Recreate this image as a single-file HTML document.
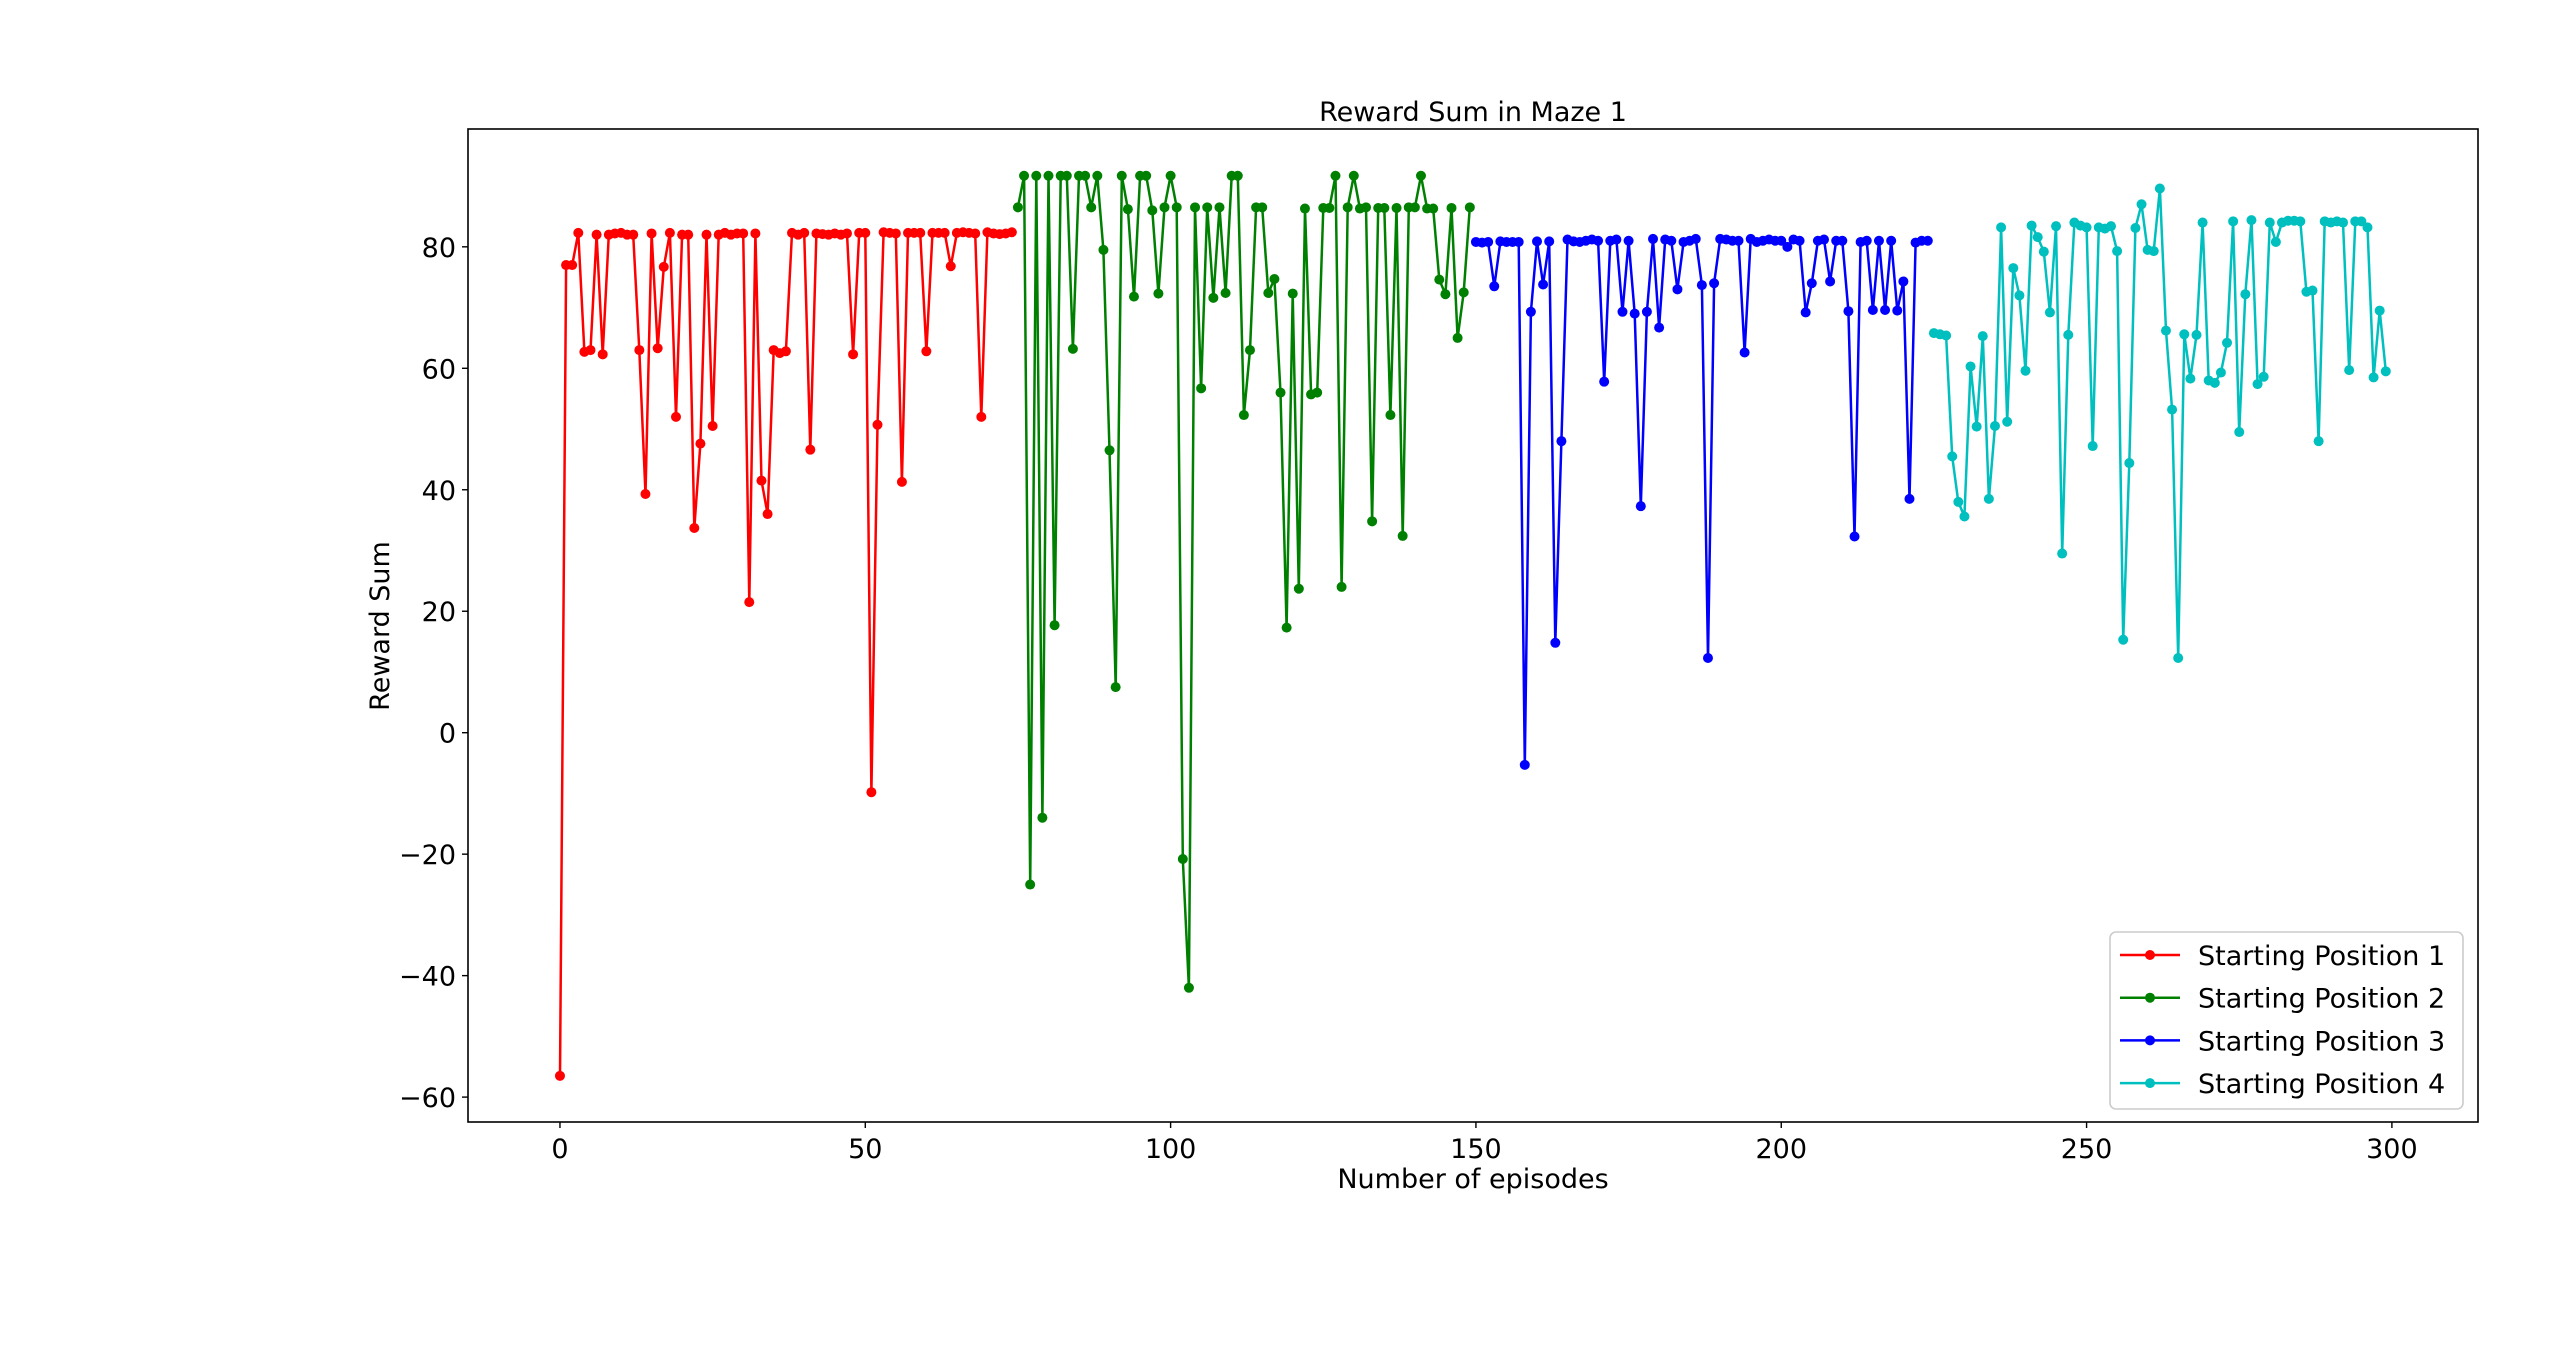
<!DOCTYPE html>
<html><head><meta charset="utf-8"><style>
html,body{margin:0;padding:0;background:#fff;}
svg{display:block;font-family:"DejaVu Sans","Liberation Sans",sans-serif;}
</style></head><body>
<svg id="chart" width="2560" height="1368" viewBox="0 0 2560 1368" xmlns="http://www.w3.org/2000/svg">
<rect x="0" y="0" width="2560" height="1368" fill="#fff"/>
<text x="1473" y="121" font-size="27" text-anchor="middle">Reward Sum in Maze 1</text>
<g id="plot"></g>
<rect x="468" y="129" width="2010" height="993" fill="none" stroke="#000" stroke-width="1.6"/>
<text x="1473" y="1188" font-size="27" text-anchor="middle">Number of episodes</text>
<text x="0" y="0" font-size="27" text-anchor="middle" transform="translate(389,626) rotate(-90)">Reward Sum</text>
<g id="legend"></g>
</svg>
<script>
const xTicks = [0, 50, 100, 150, 200, 250, 300];
const yTicks = [-60, -40, -20, 0, 20, 40, 60, 80];
const seriesNames = ["Starting Position 1","Starting Position 2","Starting Position 3","Starting Position 4"];
const seriesColors = ["#ff0000","#008000","#0000ff","#00bfbf"];
const series1 = [-56.5,77,77,82.3,62.7,63,82,62.3,82,82.2,82.3,82,82,63,39.3,82.2,63.3,76.7,82.3,52,82,82,33.7,47.6,82,50.5,82,82.3,82,82.2,82.2,21.5,82.2,41.5,36,63,62.5,62.8,82.3,82,82.3,46.6,82.2,82.1,82,82.2,82,82.2,62.3,82.3,82.3,-9.8,50.7,82.4,82.3,82.2,41.3,82.3,82.3,82.3,62.8,82.3,82.3,82.3,76.8,82.3,82.4,82.3,82.2,52,82.4,82.2,82.1,82.2,82.4];
const series2 = [86.5,91.7,-25,91.7,-14,91.7,17.7,91.7,91.7,63.2,91.7,91.7,86.5,91.7,79.5,46.5,7.5,91.7,86.2,71.8,91.7,91.7,86,72.3,86.5,91.7,86.5,-20.8,-42,86.5,56.7,86.5,71.6,86.5,72.4,91.7,91.7,52.3,63,86.5,86.5,72.4,74.7,56,17.3,72.3,23.7,86.3,55.7,56,86.4,86.4,91.7,24,86.5,91.7,86.3,86.5,34.8,86.4,86.4,52.3,86.4,32.4,86.5,86.5,91.7,86.3,86.3,74.6,72.2,86.4,65,72.5,86.5];
const series3 = [80.8,80.7,80.8,73.5,80.9,80.8,80.8,80.8,-5.3,69.3,80.9,73.8,80.9,14.8,48,81.2,80.9,80.8,81,81.2,81,57.8,81,81.2,69.3,81,69,37.3,69.3,81.3,66.7,81.2,81,73,80.8,81,81.3,73.7,12.3,74,81.3,81.2,81,81,62.6,81.3,80.8,81,81.2,81,81,80,81.2,81,69.2,74,81,81.2,74.3,81,81,69.4,32.3,80.8,81,69.6,81,69.6,81,69.5,74.3,38.5,80.7,81,81];
const series4 = [65.8,65.6,65.4,45.5,38,35.6,60.3,50.4,65.3,38.5,50.5,83.2,51.2,76.5,72,59.6,83.5,81.6,79.2,69.2,83.4,29.5,65.5,84,83.5,83.2,47.2,83.2,83,83.4,79.3,15.3,44.4,83.1,87,79.5,79.3,89.6,66.2,53.2,12.3,65.6,58.3,65.5,84,58,57.6,59.3,64.2,84.2,49.5,72.2,84.4,57.4,58.6,84,80.8,84,84.3,84.3,84.2,72.6,72.8,48,84.2,84,84.2,84,59.7,84.2,84.2,83.2,58.5,69.5,59.5];
const seriesStarts = [0, 75, 150, 225];

const NS = "http://www.w3.org/2000/svg";
const X0 = 468, X1 = 2478, Y0 = 129, Y1 = 1122;
const xMin = -15.06, xMax = 314.1, yMin = -64.1, yMax = 99.4;
function xs(v){ return X0 + (v - xMin) / (xMax - xMin) * (X1 - X0); }
function ys(v){ return Y1 - (v - yMin) / (yMax - yMin) * (Y1 - Y0); }
function mk(tag, attrs, parent){ const e = document.createElementNS(NS, tag); for (const k in attrs) e.setAttribute(k, attrs[k]); parent.appendChild(e); return e; }

const plot = document.getElementById('plot');
xTicks.forEach(t => {
  const l = mk('line', {x1: xs(t), x2: xs(t), y1: Y1, y2: Y1 + 6, stroke: '#000', 'stroke-width': 1.4}, plot);
  
  
  const tx = mk('text', {x: xs(t), y: Y1 + 36, 'font-size': 27, 'text-anchor': 'middle'}, plot);
  tx.textContent = String(t);
  
  
});
yTicks.forEach(t => {
  const l = mk('line', {x1: X0 - 6, x2: X0, y1: ys(t), y2: ys(t), stroke: '#000', 'stroke-width': 1.4}, plot);
  
  
  const tx = mk('text', {x: X0 - 12, y: ys(t) + 10, 'font-size': 27, 'text-anchor': 'end'}, plot);
  tx.textContent = t < 0 ? '\u2212' + Math.abs(t) : String(t);
  
  
});
const allSeries = [series1, series2, series3, series4];
allSeries.forEach((vals, si) => {
  const g = mk('g', {}, plot);
  
  
  const pts = vals.map((v, i) => xs(seriesStarts[si] + i).toFixed(1) + ',' + ys(v).toFixed(1)).join(' ');
  const pl = mk('polyline', {points: pts, fill: 'none', stroke: seriesColors[si], 'stroke-width': 2.5, 'stroke-linejoin': 'round'}, g);
  
  
  vals.forEach((v, i) => {
    const c = mk('circle', {cx: xs(seriesStarts[si] + i), cy: ys(v), r: 5, fill: seriesColors[si]}, g);
    
    
  });
});
const lg = document.getElementById('legend');
mk('rect', {x: 2110, y: 932, width: 353, height: 177, rx: 6, fill: '#fff', 'fill-opacity': 0.8, stroke: '#ccc', 'stroke-width': 1.6}, lg);
seriesNames.forEach((n, i) => {
  const y = 955 + i * 42.7;
  const e = mk('g', {}, lg);
  
  
  mk('line', {x1: 2120, x2: 2180, y1: y, y2: y, stroke: seriesColors[i], 'stroke-width': 2.5}, e);
  mk('circle', {cx: 2150, cy: y, r: 5, fill: seriesColors[i]}, e);
  const t = mk('text', {x: 2198, y: y + 10, 'font-size': 27}, e);
  t.textContent = n;
});
</script>
</body></html>
